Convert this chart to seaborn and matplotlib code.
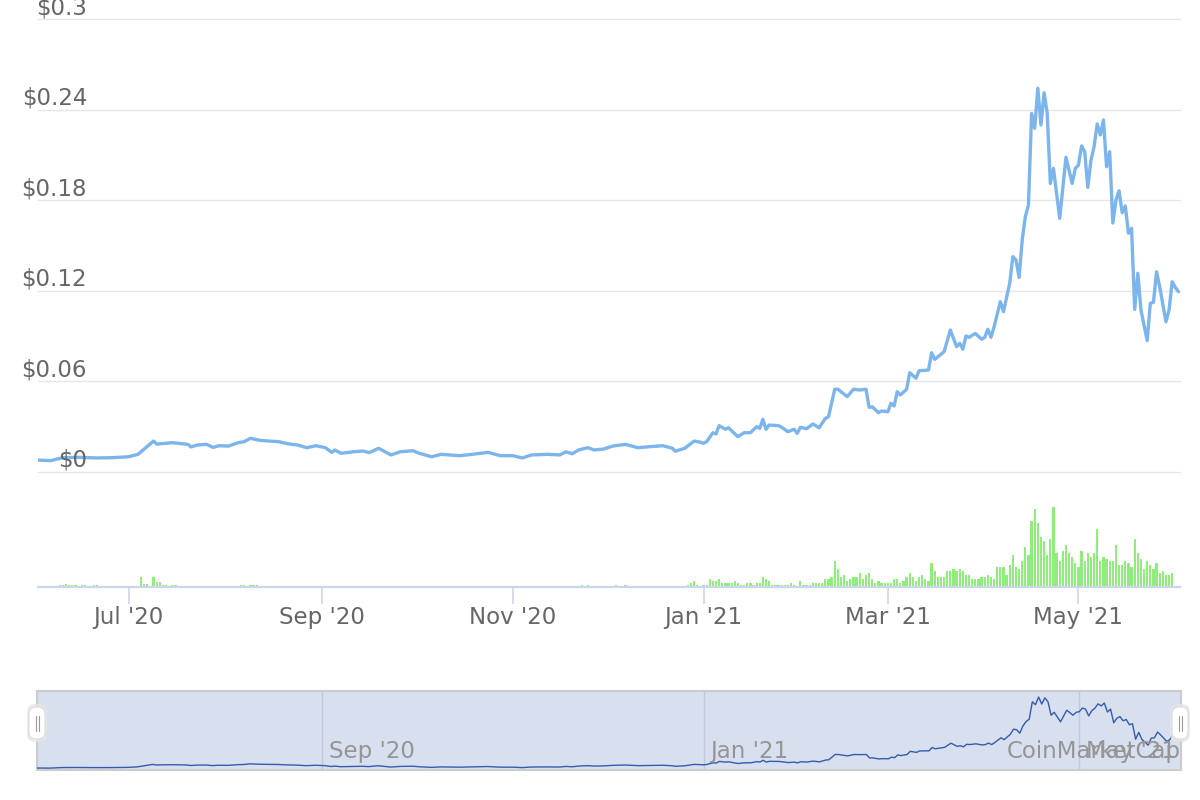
import matplotlib
matplotlib.use("Agg")
import matplotlib.pyplot as plt
import matplotlib.transforms as mtransforms
from matplotlib.patches import FancyBboxPatch
import seaborn as sns
import pandas as pd

# ---------------- data ----------------
price_dates = [
    "2020-06-02", "2020-06-06", "2020-06-10", "2020-06-15", "2020-06-21", "2020-06-26",
    "2020-07-01", "2020-07-04", "2020-07-06", "2020-07-09", "2020-07-10", "2020-07-15",
    "2020-07-20", "2020-07-21", "2020-07-23", "2020-07-26", "2020-07-28", "2020-07-30",
    "2020-08-02", "2020-08-05", "2020-08-07", "2020-08-09", "2020-08-12", "2020-08-15",
    "2020-08-18", "2020-08-21", "2020-08-24", "2020-08-27", "2020-08-30",
    "2020-09-02", "2020-09-04", "2020-09-05", "2020-09-07", "2020-09-11", "2020-09-14",
    "2020-09-16", "2020-09-19", "2020-09-23", "2020-09-26", "2020-09-30",
    "2020-10-02", "2020-10-06", "2020-10-09", "2020-10-15", "2020-10-19", "2020-10-24",
    "2020-10-28", "2020-11-01", "2020-11-04", "2020-11-07", "2020-11-12", "2020-11-16",
    "2020-11-18", "2020-11-20", "2020-11-22", "2020-11-25", "2020-11-27", "2020-11-30",
    "2020-12-03", "2020-12-07", "2020-12-11", "2020-12-15", "2020-12-19", "2020-12-22",
    "2020-12-23", "2020-12-26", "2020-12-29", "2020-12-31",
    "2021-01-01", "2021-01-02", "2021-01-04", "2021-01-05", "2021-01-06", "2021-01-08",
    "2021-01-09", "2021-01-12", "2021-01-14", "2021-01-16", "2021-01-18", "2021-01-19",
    "2021-01-20", "2021-01-21", "2021-01-22", "2021-01-25", "2021-01-26", "2021-01-28",
    "2021-01-30", "2021-01-31",
    "2021-02-01", "2021-02-03", "2021-02-05", "2021-02-07", "2021-02-09", "2021-02-10",
    "2021-02-12", "2021-02-13", "2021-02-16", "2021-02-18", "2021-02-20", "2021-02-22",
    "2021-02-23", "2021-02-24", "2021-02-26", "2021-02-27",
    "2021-03-01", "2021-03-02", "2021-03-03", "2021-03-04", "2021-03-05", "2021-03-07",
    "2021-03-08", "2021-03-10", "2021-03-11", "2021-03-14", "2021-03-15", "2021-03-16",
    "2021-03-19", "2021-03-21", "2021-03-23", "2021-03-24", "2021-03-25", "2021-03-26",
    "2021-03-27", "2021-03-29", "2021-03-31",
    "2021-04-01", "2021-04-02", "2021-04-03", "2021-04-04", "2021-04-06", "2021-04-07",
    "2021-04-09", "2021-04-10", "2021-04-11", "2021-04-12", "2021-04-13", "2021-04-14",
    "2021-04-15", "2021-04-16", "2021-04-17", "2021-04-18", "2021-04-19", "2021-04-20",
    "2021-04-21", "2021-04-22", "2021-04-23", "2021-04-25", "2021-04-27", "2021-04-29",
    "2021-04-30",
    "2021-05-01", "2021-05-02", "2021-05-03", "2021-05-04", "2021-05-05", "2021-05-06",
    "2021-05-07", "2021-05-08", "2021-05-09", "2021-05-10", "2021-05-11", "2021-05-12",
    "2021-05-13", "2021-05-14", "2021-05-15", "2021-05-16", "2021-05-17", "2021-05-18",
    "2021-05-19", "2021-05-20", "2021-05-21", "2021-05-23", "2021-05-24", "2021-05-25",
    "2021-05-26", "2021-05-27", "2021-05-29", "2021-05-30", "2021-05-31",
    "2021-06-01", "2021-06-02",
]
price_values = [
    0.0079, 0.0075, 0.0095, 0.0097, 0.0093, 0.0095,
    0.0101, 0.0117, 0.0152, 0.0205, 0.0185, 0.0194,
    0.0183, 0.0166, 0.0179, 0.0183, 0.0163, 0.0174,
    0.0172, 0.0194, 0.0201, 0.0223, 0.0210, 0.0205,
    0.0201, 0.0187, 0.0179, 0.0161, 0.0174,
    0.0161, 0.0130, 0.0146, 0.0124, 0.0134, 0.0139,
    0.0128, 0.0157, 0.0113, 0.0134, 0.0141,
    0.0124, 0.0101, 0.0117, 0.0108, 0.0117, 0.0130,
    0.0108, 0.0108, 0.0093, 0.0113, 0.0117, 0.0113,
    0.0134, 0.0121, 0.0146, 0.0161, 0.0146, 0.0152,
    0.0172, 0.0183, 0.0161, 0.0168, 0.0174, 0.0157,
    0.0138, 0.0157, 0.0205, 0.0197,
    0.0190, 0.0201, 0.0260, 0.0252, 0.0307, 0.0283,
    0.0293, 0.0234, 0.0260, 0.0260, 0.0300, 0.0289,
    0.0349, 0.0283, 0.0311, 0.0307, 0.0296, 0.0267,
    0.0283, 0.0256,
    0.0296, 0.0287, 0.0318, 0.0293, 0.0355, 0.0366,
    0.0548, 0.0548, 0.0499, 0.0548, 0.0543, 0.0548,
    0.0428, 0.0432, 0.0393, 0.0404,
    0.0399, 0.0455, 0.0437, 0.0532, 0.0510, 0.0548,
    0.0658, 0.0621, 0.0671, 0.0675, 0.0790, 0.0746,
    0.0797, 0.0940, 0.0830, 0.0852, 0.0813, 0.0901,
    0.0892, 0.0918, 0.0879,
    0.0892, 0.0945, 0.0892, 0.0962, 0.1128, 0.1062,
    0.1250, 0.1426, 0.1404, 0.1289, 0.1536, 0.1691,
    0.1768, 0.2375, 0.2276, 0.2541, 0.2298, 0.2512,
    0.2375, 0.1911, 0.2011, 0.1680, 0.2084, 0.1911,
    0.2011,
    0.2033, 0.2159, 0.2121, 0.1885, 0.2066, 0.2154,
    0.2305, 0.2232, 0.2331, 0.2022, 0.2121, 0.1649,
    0.1801, 0.1863, 0.1717, 0.1762, 0.1581, 0.1614,
    0.1077, 0.1316, 0.1073, 0.0870, 0.1117, 0.1124,
    0.1326, 0.1227, 0.0995, 0.1073, 0.1260,
    0.1223, 0.1194,
]

# sparse volume (2020), millions USD
vol_early_dates = [
    "2020-06-03", "2020-06-07", "2020-06-08", "2020-06-09", "2020-06-10", "2020-06-11",
    "2020-06-12", "2020-06-13", "2020-06-14", "2020-06-15", "2020-06-16", "2020-06-17",
    "2020-06-18", "2020-06-20", "2020-06-21", "2020-06-23", "2020-06-24", "2020-06-26",
    "2020-07-01", "2020-07-05", "2020-07-06", "2020-07-07", "2020-07-09", "2020-07-10",
    "2020-07-11", "2020-07-12", "2020-07-13", "2020-07-15", "2020-07-16", "2020-07-22",
    "2020-07-27", "2020-08-01", "2020-08-06", "2020-08-07", "2020-08-09", "2020-08-10",
    "2020-08-11", "2020-08-13", "2020-08-15", "2020-08-17", "2020-08-19", "2020-08-31",
    "2020-09-04", "2020-09-06",
    "2020-11-23", "2020-11-25", "2020-11-27", "2020-12-04", "2020-12-07",
]
vol_early_values = [
    1.5, 1.5, 1.5, 2, 2, 3,
    2, 2, 2, 1.5, 2, 2,
    1.5, 2, 2, 1.5, 1.5, 1.5,
    1, 10, 3, 3, 10, 5.5,
    5, 2, 2, 2, 2, 1.5,
    1.5, 1.5, 2, 2, 2, 2,
    2, 1.5, 1.5, 1.5, 1.5, 1.5,
    1.5, 1.5,
    2, 2, 1.5, 2, 2,
]

# daily volume from 2020-12-27 to 2021-05-31, millions USD
vol_daily_start = "2020-12-27"
vol_daily_values = [
    2, 4, 6, 2, 0, 2, 2, 7.7, 6, 6,
    7.7, 4, 4, 4, 4, 6, 4, 2, 2, 4,
    4, 2, 4, 4, 10, 7.7, 6, 2, 2, 2,
    2, 2, 2, 4, 2, 0, 6, 2, 2, 2,
    4, 4, 4, 4, 8, 8, 10, 26, 18, 10,
    12, 6, 8, 10, 10, 14, 8, 12, 14, 8,
    4, 6, 4, 4, 4, 4, 8, 8, 4, 6,
    10, 14, 10, 6, 10, 12, 8, 6, 24, 16,
    10, 10, 10, 16, 16, 18, 16, 18, 16, 12,
    12, 8, 8, 8, 10, 10, 12, 10, 8, 20,
    20, 20, 12, 22, 32, 20, 18, 26, 40, 32,
    66, 78, 64, 50, 46, 32, 48, 80, 34, 26,
    36, 42, 34, 30, 24, 20, 36, 26, 34, 30,
    34, 58, 26, 30, 28, 26, 26, 42, 22, 22,
    26, 24, 20, 48, 34, 28, 18, 26, 22, 18,
    24, 14, 16, 12, 12, 14,
]

price_ticks = [0, 0.06, 0.12, 0.18, 0.24, 0.3]
price_tick_labels = ["$0", "$0.06", "$0.12", "$0.18", "$0.24", "$0.3"]
month_ticks = ["2020-07-01", "2020-09-01", "2020-11-01", "2021-01-01", "2021-03-01", "2021-05-01"]
month_labels = ["Jul '20", "Sep '20", "Nov '20", "Jan '21", "Mar '21", "May '21"]
nav_ticks = ["2020-09-01", "2021-01-01", "2021-05-01"]
nav_labels = ["Sep '20", "Jan '21", "May '21"]
x_start, x_end = "2020-06-02", "2021-06-02 12:00"

# ---------------- styling ----------------
sns.set_theme(style="white")
plt.rcParams['font.family'] = ['DejaVu Sans']

LINE = "#7cb5ec"
VOL = "#90ed7d"
NAVLINE = "#335cad"
GRID = "#e6e6e6"
AXIS = "#ccd6eb"
LABEL = "#666666"
FS = 16.5

W, H = 1200, 800
fig = plt.figure(figsize=(W / 100, H / 100), dpi=100)
fig.patch.set_facecolor("white")


def rect(x0, y0, x1, y1):
    return [x0 / W, 1 - y1 / H, (x1 - x0) / W, (y1 - y0) / H]


price_df = pd.DataFrame({"date": pd.to_datetime(price_dates), "price": price_values})
vol_df = pd.concat([
    pd.DataFrame({"date": pd.to_datetime(vol_early_dates), "volume": vol_early_values}),
    pd.DataFrame({"date": pd.date_range(vol_daily_start, periods=len(vol_daily_values), freq="D"),
                  "volume": vol_daily_values}),
])
xlim = (pd.Timestamp(x_start), pd.Timestamp(x_end))

# ---------------- price panel ----------------
ax = fig.add_axes(rect(38, 19, 1180, 472))
ax.set_facecolor("white")
for t in price_ticks:
    ax.axhline(t, color=GRID, lw=1.0, zorder=0, clip_on=False)
sns.lineplot(data=price_df, x="date", y="price", ax=ax, color=LINE, linewidth=2.4, zorder=3)
ax.set_xlim(*xlim)
ax.set_ylim(0, 0.3)
ax.set_xticks([])
ax.set_yticks([])
ax.set_xlabel("")
ax.set_ylabel("")
for s in ax.spines.values():
    s.set_visible(False)
ytrans = mtransforms.offset_copy(ax.get_yaxis_transform(), fig=fig, x=0, y=5, units="dots")
for t, lab in zip(price_ticks, price_tick_labels):
    ax.text((87 - 38) / (1180 - 38), t, lab, transform=ytrans, ha="right", va="baseline",
            fontsize=FS, color=LABEL, zorder=5, clip_on=False)

# ---------------- volume panel ----------------
axv = fig.add_axes(rect(38, 490, 1180, 587))
axv.set_facecolor("none")
axv.bar(vol_df["date"], vol_df["volume"], width=0.72, color=VOL, linewidth=0, zorder=2)
axv.set_xlim(*xlim)
axv.set_ylim(0, 97)
axv.set_yticks([])
axv.set_xticks(pd.to_datetime(month_ticks))
axv.set_xticklabels(month_labels, fontsize=FS, color=LABEL)
axv.tick_params(axis="x", direction="out", length=12, width=1.2, color=AXIS, pad=2, bottom=True)
for name, s in axv.spines.items():
    s.set_visible(name == "bottom")
axv.spines["bottom"].set_color(AXIS)
axv.spines["bottom"].set_linewidth(1.6)

# ---------------- navigator ----------------
axn = fig.add_axes(rect(37, 691, 1181, 770))
axn.set_facecolor("#d8dfef")
sns.lineplot(data=price_df, x="date", y="price", ax=axn, color=NAVLINE, linewidth=1.0, zorder=3)
axn.set_xlim(*xlim)
axn.set_ylim(0.001, 0.275)
axn.set_xticks([])
axn.set_yticks([])
axn.set_xlabel("")
axn.set_ylabel("")
for s in axn.spines.values():
    s.set_color("#cccccc")
    s.set_linewidth(1.5)
ntrans = mtransforms.offset_copy(axn.get_xaxis_transform(), fig=fig, x=7, y=0, units="dots")
for t, lab in zip(nav_ticks, nav_labels):
    axn.axvline(pd.Timestamp(t), color="#c0c9db", lw=1.0, zorder=1)
    axn.text(pd.Timestamp(t), 0.15, lab, transform=ntrans, ha="left", va="baseline",
             fontsize=FS, color="#959595", zorder=4)
axn.text(1.0, 0.15, "CoinMarketCap", transform=axn.transAxes, ha="right", va="baseline",
         fontsize=FS, color="#959595", zorder=5)

# navigator handles
def P(px, py):
    return (px / 100, (H - py) / 100)

for cx in (37, 1180):
    shadow = FancyBboxPatch(P(cx - 10, 742), 0.20, 0.38,
                            boxstyle="round,pad=0,rounding_size=0.08",
                            transform=fig.dpi_scale_trans, facecolor="#e6e6e6",
                            edgecolor="none", alpha=0.8, zorder=10)
    fig.patches.append(shadow)
    handle = FancyBboxPatch(P(cx - 8, 739), 0.16, 0.32,
                            boxstyle="round,pad=0,rounding_size=0.07",
                            transform=fig.dpi_scale_trans, facecolor="white",
                            edgecolor="#dddddd", linewidth=0.8, zorder=11)
    fig.patches.append(handle)
    for dx in (-1.5, 1.5):
        x0, y0 = P(cx + dx, 716)
        x1, y1 = P(cx + dx, 731)
        fig.lines.append(plt.Line2D([x0, x1], [y0, y1], transform=fig.dpi_scale_trans,
                                    color="#999999", lw=0.8, zorder=12))

fig.savefig("out.png", dpi=100, facecolor="white")
